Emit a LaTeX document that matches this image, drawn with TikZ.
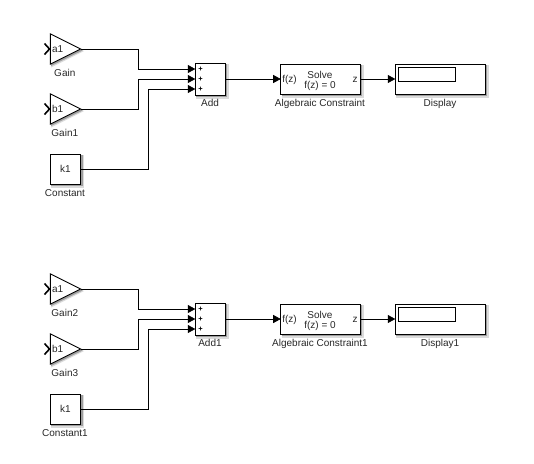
\documentclass[tikz,border=0pt]{standalone}
\usepackage{fontspec}
\setmainfont{Liberation Sans}
\usetikzlibrary{arrows.meta,calc}
\definecolor{txt}{RGB}{40,40,40}
\tikzset{
  x=1pt,y=-1pt,
  every node/.style={font=\fontsize{10}{12}\selectfont,text=txt,inner sep=0pt,outer sep=0pt,text height=7pt,text depth=0pt},
  blk/.style={draw=black,line width=0.9pt,fill=white,anchor=center},
  hidden/.style={minimum width=30.4pt,minimum height=30.4pt},
  wire/.style={draw=black,line width=0.7pt,-{Triangle[length=7.5pt,width=8pt]}},
  chev/.style={draw=black,line width=1.6pt,line join=miter},
  shadeA/.style={fill=black!14,draw=none},
  shadeB/.style={fill=black!38,draw=none},
  plus/.style={font=\fontsize{7.5}{8}\selectfont\bfseries,text=black,text height=5pt},
}
\newcommand{\shadowrect}[4]{%
  \fill[shadeA] (#1+1,#2+1) rectangle (#3+3.4,#4+3.4);
  \fill[shadeB] (#1+1,#2+1) rectangle (#3+2,#4+2);
}
\newcommand{\gainblock}[5]{%
  \fill[shadeA] (51,#2-14) -- (84,#2+2) -- (51,#2+18.5) -- cycle;
  \fill[shadeB] (51,#2-14) -- (82.6,#2+1.5) -- (51,#2+17) -- cycle;
  \node[hidden] (#1) at (65.5,#2) {};
  \draw[line width=0.9pt,fill=white,line join=miter] (50.3,#2-15.2) -- (80.7,#2) -- (50.3,#2+15.2) -- cycle;
  \draw[chev] (44.5,#2-5.5) -- (49.5,#2) -- (44.5,#2+5.5);
  \node at (57.7,#2) {#3};
  \node (#1l) at (64.8,#5) {#4};
}
\newcommand{\sheet}[8]{%
  \begin{scope}[shift={(0,#1)}]
    \gainblock{ga#8}{49}{a1}{#2}{72.8}
    \gainblock{gb#8}{109}{b1}{#3}{132.8}
    \shadowrect{50.3}{154.3}{80.7}{184.3}
    \node[blk,minimum width=30.4pt,minimum height=30pt] (k#8) at (65.5,169) {k1};
    \node (kl#8) at (65,192.8) {#4};
    \shadowrect{195.3}{63.3}{225.3}{95.3}
    \node[blk,minimum width=30pt,minimum height=32pt] (add#8) at (210.3,79) {};
    \node[plus] at (200.5,69) {+};
    \node[plus] at (200.5,79) {+};
    \node[plus] at (200.5,89) {+};
    \node (addl#8) at (210,103.3) {#5};
    \coordinate (ia#8) at (195.3,69);
    \coordinate (ib#8) at (195.3,79);
    \coordinate (ic#8) at (195.3,89);
    \shadowrect{280.7}{64.3}{360.3}{94.3}
    \node[blk,minimum width=79.6pt,minimum height=30pt] (alg#8) at (320.5,79) {};
    \node at (320,74.7) {Solve};
    \node at (320,85) {f(z) = 0};
    \node at (289.5,79) {f(z)};
    \node at (355,79) {z};
    \node (algl#8) at (320,102.8) {#6};
    \shadowrect{395.3}{64.3}{485.3}{94.3}
    \node[blk,minimum width=90pt,minimum height=30pt] (disp#8) at (440.3,79) {};
    \draw[line width=0.9pt,draw=black] (398.3,67.3) rectangle (455.3,81.3);
    \node (displ#8) at (440,102.8) {#7};
    \draw[wire] (ga#8.east) -- ++(58,0) |- (ia#8);
    \draw[wire] (gb#8.east) -- ++(58,0) |- (ib#8);
    \draw[wire] (k#8.east) -- ++(68,0) |- (ic#8);
    \draw[wire] (add#8.east) -- (alg#8.west);
    \draw[wire] (alg#8.east) -- (disp#8.west);
  \end{scope}
}
\begin{document}
\begin{tikzpicture}
\useasboundingbox (0,0) rectangle (534,463);
\fill[white] (0,0) rectangle (534,463);
\sheet{0}{Gain}{Gain1}{Constant}{Add}{Algebraic Constraint}{Display}{A}
\sheet{240}{Gain2}{Gain3}{Constant1}{Add1}{Algebraic Constraint1}{Display1}{B}
\end{tikzpicture}
\end{document}
